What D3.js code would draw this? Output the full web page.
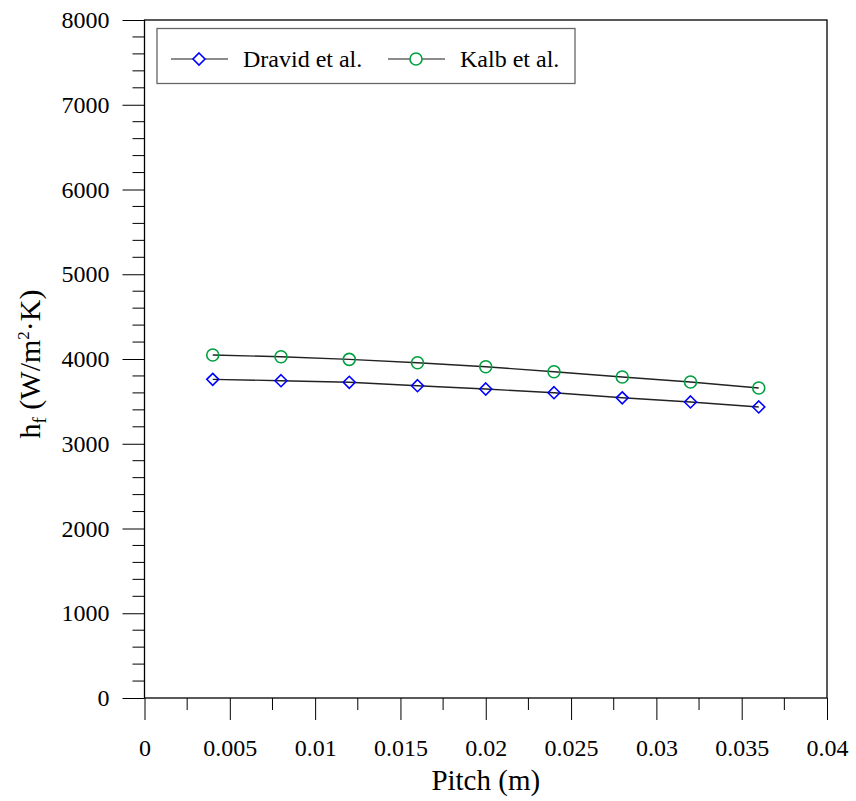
<!DOCTYPE html>
<html><head><meta charset="utf-8">
<script src="https://cdn.jsdelivr.net/npm/d3@7"></script>
<style>body{margin:0;background:#fff}svg{display:block}
svg text{font-family:'Liberation Serif','Times New Roman',serif;}</style>
</head><body>
<svg id="c" width="856" height="801"></svg>
<script>
const pitch = [0.004,0.008,0.012,0.016,0.020,0.024,0.028,0.032,0.036];
const dravid = [3760,3744,3725,3685,3646,3602,3542,3493,3434];
const kalb = [4047,4027,3996,3956,3909,3850,3788,3729,3658];
const xTicks = [0,0.005,0.01,0.015,0.02,0.025,0.03,0.035,0.04];
const yTicks = [0,1000,2000,3000,4000,5000,6000,7000,8000];
const seriesNames = ["Dravid et al.","Kalb et al."];

const svg = d3.select("#c");
const font = "'Liberation Serif','Times New Roman',serif";
const L=144.5, R=827, T=20, B=698;
const x = d3.scaleLinear().domain([0,0.04]).range([L,R]);
const y = d3.scaleLinear().domain([0,8000]).range([B,T]);

// minor ticks
const yMinor = d3.range(0,8001,200).filter(v=>v%1000!==0);
svg.append("g").selectAll("line").data(yMinor).join("line")
  .attr("x1",L-12).attr("x2",L).attr("y1",d=>y(d)).attr("y2",d=>y(d))
  .attr("stroke","#000").attr("stroke-width",1);
const xMinor = d3.range(0.0025,0.04,0.005);
svg.append("g").selectAll("line").data(xMinor).join("line")
  .attr("x1",d=>x(d)).attr("x2",d=>x(d)).attr("y1",B).attr("y2",B+12)
  .attr("stroke","#000").attr("stroke-width",1);

// axes
const yAxis = d3.axisLeft(y).tickValues(yTicks).tickSize(22).tickPadding(13).tickFormat(d3.format("d"));
const gy = svg.append("g").attr("transform",`translate(${L},0)`).call(yAxis);
const xAxis = d3.axisBottom(x).tickValues(xTicks).tickSize(22).tickPadding(19).tickFormat(d=>d===0?"0":String(+d.toFixed(3)));
const gx = svg.append("g").attr("transform",`translate(0,${B})`).call(xAxis);
[gx,gy].forEach(g=>{
  g.attr("font-family",font).attr("font-size",24);
  g.select(".domain").remove();
  g.selectAll("line").attr("stroke","#000");
  g.selectAll("text").style("font-family",font).style("font-size","24px").attr("fill","#000");
});

// frame
svg.append("rect").attr("x",L).attr("y",T).attr("width",R-L).attr("height",B-T)
  .attr("fill","none").attr("stroke","#000").attr("stroke-width",1.3);

// lines
const line = d3.line().x((d,i)=>x(pitch[i])).y(d=>y(d));
[dravid,kalb].forEach(s=>{
  svg.append("path").attr("d",line(s)).attr("fill","none").attr("stroke","#222").attr("stroke-width",1.4);
});
const blue="#0000ff", green="#00a040";
const diamond = (cx,cy,r)=>`M${cx},${cy-r}L${cx+r},${cy}L${cx},${cy+r}L${cx-r},${cy}Z`;
svg.append("g").selectAll("path").data(dravid).join("path")
  .attr("d",(d,i)=>diamond(x(pitch[i]),y(d),6))
  .attr("fill","none").attr("stroke",blue).attr("stroke-width",1.6);
svg.append("g").selectAll("circle").data(kalb).join("circle")
  .attr("cx",(d,i)=>x(pitch[i])).attr("cy",d=>y(d)).attr("r",6)
  .attr("fill","none").attr("stroke",green).attr("stroke-width",1.6);

// legend
const lg = svg.append("g");
lg.append("rect").attr("x",157).attr("y",28.5).attr("width",418).attr("height",55)
  .attr("fill","#fff").attr("stroke","#666").attr("stroke-width",1.3);
const ly=59;
lg.append("line").attr("x1",171).attr("x2",228).attr("y1",ly).attr("y2",ly).attr("stroke","#666").attr("stroke-width",1.4);
lg.append("path").attr("d",diamond(199,ly,6)).attr("fill","#fff").attr("stroke",blue).attr("stroke-width",1.6);
lg.append("text").attr("x",243).attr("y",ly+8).text(seriesNames[0]).style("font-size","24px");
lg.append("line").attr("x1",388).attr("x2",445).attr("y1",ly).attr("y2",ly).attr("stroke","#666").attr("stroke-width",1.4);
lg.append("circle").attr("cx",416).attr("cy",ly).attr("r",6).attr("fill","#fff").attr("stroke",green).attr("stroke-width",1.6);
lg.append("text").attr("x",460).attr("y",ly+8).text(seriesNames[1]).style("font-size","24px");

// axis titles
svg.append("text").attr("x",(L+R)/2).attr("y",790).attr("text-anchor","middle")
  .style("font-size","29px").text("Pitch (m)");
const yt = svg.append("text").attr("transform","translate(40,364) rotate(-90)").attr("text-anchor","middle")
  .style("font-size","30px");
yt.append("tspan").text("h");
yt.append("tspan").style("font-size","19px").attr("dy",6).text("f");
yt.append("tspan").attr("dy",-6).text(" (W/m");
yt.append("tspan").style("font-size","17px").attr("dy",-11).text("2");
yt.append("tspan").attr("dy",11).text("·K)");
</script>
</body></html>
